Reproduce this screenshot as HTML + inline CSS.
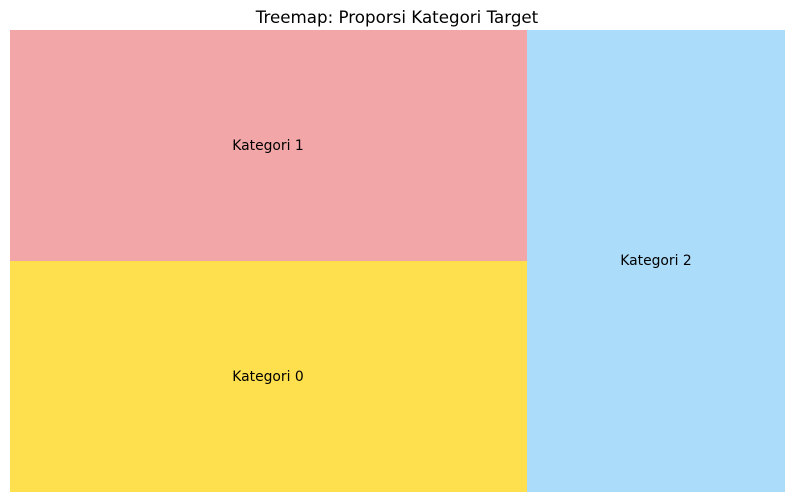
<!DOCTYPE html>
<html><head><style>
body{margin:0;width:794px;height:502px;background:#fff;position:relative;overflow:hidden;font-family:"DejaVu Sans","Liberation Sans",sans-serif;}
.r{position:absolute;}
.t{position:absolute;font-size:13.9px;color:#000;transform:translate(-50%,-50%);white-space:nowrap;}
</style></head><body>
<div class="t" style="left:397px;top:17px;font-size:16.7px;">Treemap: Proporsi Kategori Target</div>
<div class="r" style="left:10px;top:30px;width:517px;height:231px;background:#F2A6A7;"></div>
<div class="r" style="left:10px;top:261px;width:517px;height:231px;background:#FEDF4E;"></div>
<div class="r" style="left:527px;top:30px;width:258px;height:462px;background:#ABDCFA;"></div>
<div class="t" style="left:268px;top:146px;">Kategori 1</div>
<div class="t" style="left:268px;top:377px;">Kategori 0</div>
<div class="t" style="left:656px;top:261px;">Kategori 2</div>
</body></html>
